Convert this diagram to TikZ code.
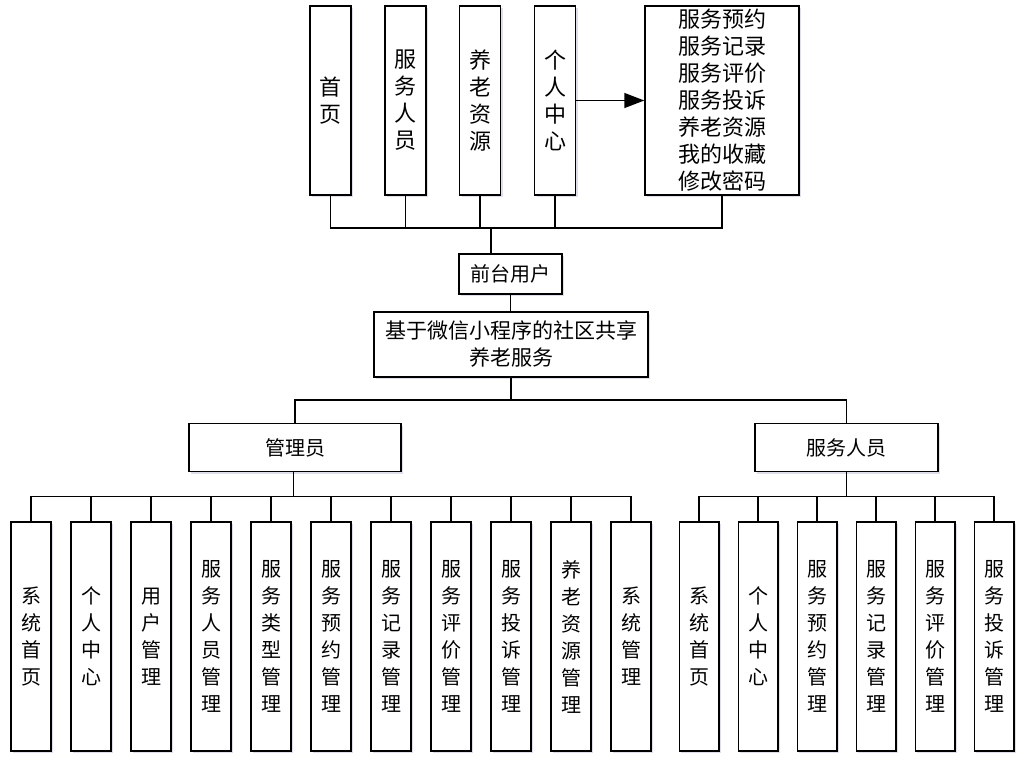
\documentclass[tikz,border=0pt]{standalone}
\usepackage{fontspec}
\setmainfont{Noto Sans CJK SC}
\usetikzlibrary{arrows.meta,shadows}

\begin{document}
\begin{tikzpicture}[x=1pt, y=-1pt,
    box/.style={draw, line width=1.5pt, fill=white, inner sep=0pt, align=center,
        drop shadow={shadow xshift=2pt, shadow yshift=-2pt, fill=blue!25!gray, opacity=0.2}},
    tall/.style={box, minimum width=41pt, minimum height=189pt, font=\fontsize{22}{27}\selectfont},
    leaf/.style={box, minimum width=40pt, minimum height=229pt, font=\fontsize{20}{27}\selectfont},
    mid/.style={box, font=\fontsize{20}{27}\selectfont},
    link/.style={line width=1.5pt}]
    \useasboundingbox (0,0) rectangle (1031,766);
    % Front-end user: top row
    \node[tall] (home) at (330.5,100.5) {首\\页};
    \node[tall] (staff) at (405.5,100.5) {服\\务\\人\\员};
    \node[tall] (res) at (480,100.5) {养\\老\\资\\源};
    \node[tall] (center) at (555,100.5) {个\\人\\中\\心};
    \node[tall, minimum width=154pt] (menu) at (722,100.5)
        {服务预约\\服务记录\\服务评价\\服务投诉\\养老资源\\我的收藏\\修改密码};
    \draw[link, -{Triangle[length=20pt, width=15pt]}] (center) -- (menu);
    \coordinate (tbus) at (491,228);
    \foreach \n in {home,staff,res,center,menu}
        \draw[link] (\n.south) |- (tbus);
    % Middle: user, system, roles
    \node[mid, minimum width=103pt, minimum height=40pt] (front) at (510.5,274) {前台用户};
    \node[mid, minimum width=274pt, minimum height=65pt, font=\fontsize{21}{27}\selectfont] (sys) at (511,344.5)
        {基于微信小程序的社区共享\\养老服务};
    \node[mid, minimum width=212pt, minimum height=48pt] (admin) at (295,447.5) {管理员};
    \node[mid, minimum width=183pt, minimum height=48pt] (worker) at (846.5,447.5) {服务人员};
    \draw[link] (tbus) -- (tbus |- front.north);
    \draw[link] (front) -- (front |- sys.north);
    \coordinate (sbus) at (511,400);
    \draw[link] (sys.south) -- (sbus);
    \draw[link] (admin.north) |- (sbus);
    \draw[link] (worker.north) |- (sbus);
    % Administrator modules
    \path (admin.south) ++(-1.3,24) coordinate (abus);
    \draw[link] (admin.south -| abus) -- (abus);
    \foreach \txt [count=\i from 0] in {{系\\统\\首\\页}, {个\\人\\中\\心}, {用\\户\\管\\理},
        {服\\务\\人\\员\\管\\理}, {服\\务\\类\\型\\管\\理}, {服\\务\\预\\约\\管\\理},
        {服\\务\\记\\录\\管\\理}, {服\\务\\评\\价\\管\\理}, {服\\务\\投\\诉\\管\\理},
        {养\\老\\资\\源\\管\\理}, {系\\统\\管\\理}}
        \node[leaf] (a\i) at (31+60*\i,636.5) {\txt};
    \foreach \i in {0,...,10}
        \draw[link] (a\i.north) |- (abus);
    % Service staff modules
    \path (worker.south) ++(0,24) coordinate (wbus);
    \draw[link] (worker.south) -- (wbus);
    \foreach \txt [count=\i from 0] in {{系\\统\\首\\页}, {个\\人\\中\\心},
        {服\\务\\预\\约\\管\\理}, {服\\务\\记\\录\\管\\理},
        {服\\务\\评\\价\\管\\理}, {服\\务\\投\\诉\\管\\理}}
        \node[leaf, minimum width=39.5pt] (w\i) at (699+59*\i,636.5) {\txt};
    \foreach \i in {0,...,5}
        \draw[link] (w\i.north) |- (wbus);
\end{tikzpicture}
\end{document}
